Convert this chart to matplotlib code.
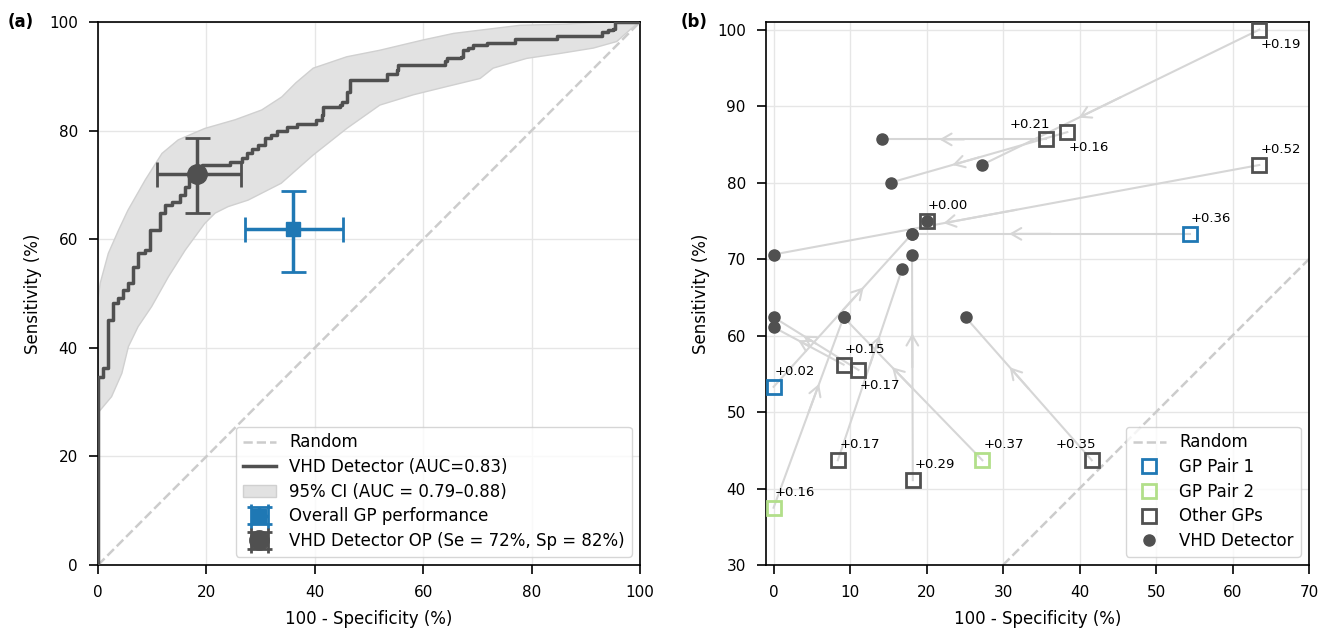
import matplotlib
matplotlib.use('Agg')
import matplotlib.pyplot as plt
from matplotlib.lines import Line2D


# ---- panel (a): ROC curve of the VHD detector ----
roc_fpr = [0, 0, 0.9, 1.9, 2.8, 3.7, 4.7, 5.6, 6.5, 7.4, 8.6, 9.6, 11.4, 12.4, 13.6, 15.1, 16.1, 16.7,
           19.1, 24.4, 26.5, 27.4, 28.4, 29.6, 30.8, 32.0, 33.0, 34.8, 36.7, 40.3, 41.3, 41.6, 44.6,
           45.1, 45.9, 46.5, 53.3, 55.1, 55.4, 64.0, 64.3, 67.0, 67.4, 68.3, 69.2, 71.7, 76.9, 84.6,
           92.9, 94.1, 95.1, 95.4, 100]
roc_tpr = [0, 34.7, 36.3, 45.1, 48.2, 49.1, 50.6, 51.9, 54.9, 57.4, 58.0, 61.7, 64.8, 66.3, 66.9, 68.1,
           69.7, 71.5, 73.7, 74.3, 74.9, 75.8, 76.7, 77.3, 78.6, 79.2, 80.0, 80.7, 81.3, 82.0, 82.9,
           84.4, 84.7, 85.3, 87.2, 89.3, 90.5, 91.2, 92.1, 92.8, 93.3, 93.6, 94.8, 95.2, 95.8, 96.1,
           96.9, 97.5, 98.1, 98.5, 98.8, 100, 100]

ci_up_x = [0, 0.4, 1.9, 3.8, 5.5, 8.7, 11.8, 14.8, 19.7, 25.3, 30.2, 33.9, 36.5, 39.7, 45.9, 52, 60,
           65.6, 70.5, 77.9, 86, 93, 100]
ci_up_y = [49, 51.9, 57.4, 61.7, 65.3, 70.9, 75.8, 78.3, 80.4, 82, 83.8, 86.2, 88.8, 91.5, 93.6, 94.8,
           96.7, 97.9, 98.5, 99.4, 99.6, 100, 100]
ci_lo_x = [0, 0.4, 2.5, 4.4, 5.6, 7.4, 9.9, 13, 16.1, 19.7, 21.6, 24, 27.7, 33.8, 39.7, 45.9, 52,
           58.2, 64.3, 70.5, 72.9, 79.1, 85.2, 91.4, 95.7, 99.1, 100]
ci_lo_y = [28, 28.5, 31, 35.3, 40.2, 43.9, 47.6, 53.1, 58.0, 62.9, 64.8, 66.0, 67.2, 70.3, 75.5, 80.4,
           84.7, 86.6, 88.1, 89.6, 91.5, 93.3, 94.2, 95.2, 96.4, 99.4, 100]

# operating points: value, lower, upper
op_fpr = [18.3, 10.8, 26.4]
op_se = [72.0, 64.9, 78.6]
gp_all_fpr = [35.9, 27.1, 45.2]
gp_all_se = [61.9, 53.9, 68.8]

# ---- panel (b): each GP vs. VHD detector on the same cases ----
gp_fpr = [63.5, 35.6, 38.4, 63.5, 20.0, 54.4, 9.15, 11.1, 0.0, 8.4, 18.2, 27.3, 41.6, 0.0]
gp_se = [100.0, 85.65, 86.6, 82.3, 75.0, 73.3, 56.2, 55.5, 53.3, 43.7, 41.1, 43.7, 43.7, 37.5]
gp_group = ['other', 'other', 'other', 'other', 'other', 'pair1', 'other', 'other', 'pair1',
            'other', 'other', 'pair2', 'other', 'pair2']
gp_delta = ['+0.19', '+0.21', '+0.16', '+0.52', '+0.00', '+0.36', '+0.15', '+0.17', '+0.02',
            '+0.17', '+0.29', '+0.37', '+0.35', '+0.16']
vhd_fpr = [27.2, 14.2, 15.3, 0.0, 20.0, 18.1, 0.0, 0.0, 18.1, 16.8, 18.1, 9.15, 25.1, 9.15]
vhd_se = [82.3, 85.65, 80.0, 70.6, 75.0, 73.3, 61.1, 62.4, 73.3, 68.7, 70.6, 62.4, 62.4, 62.4]

# where each delta label sits relative to its square (points, alignment)
label_pos = [(1, -11, 'left'), (3, 11, 'right'), (1, -11, 'left'), (1, 11, 'left'), (1, 11, 'left'),
             (1, 11, 'left'), (1, 11, 'left'), (1, -11, 'left'), (1, 11, 'left'), (1, 11, 'left'),
             (1, 11, 'left'), (1, 11, 'left'), (3, 11, 'right'), (1, 11, 'left')]

dark = '#505050'
blue = '#1f78b4'
green = '#b2df8a'
grey = '#cccccc'
arrow_c = '#d6d6d6'
group_color = {'pair1': blue, 'pair2': green, 'other': dark}

fig = plt.figure(figsize=(13.3, 6.34), dpi=100)
ax1 = fig.add_axes([0.0737, 0.1088, 0.4075, 0.8565])
ax2 = fig.add_axes([0.5759, 0.1088, 0.4083, 0.8565])

for ax in (ax1, ax2):
    ax.grid(True, color='#e6e6e6', lw=1)
    ax.set_axisbelow(True)
    for s in ax.spines.values():
        s.set_linewidth(1.2)
    ax.tick_params(labelsize=11, length=6.5, width=1.2, pad=8)
    ax.set_xlabel('100 - Specificity (%)', fontsize=12, labelpad=7)
    ax.set_ylabel('Sensitivity (%)', fontsize=12, labelpad=5)

# (a)
ax1.plot([0, 100], [0, 100], '--', color=grey, lw=1.8, label='Random', zorder=1)
ax1.plot(roc_fpr, roc_tpr, drawstyle='steps-post', color=dark, lw=2.5,
         label='VHD Detector (AUC=0.83)', zorder=3)
ax1.fill(ci_up_x + ci_lo_x[::-1], ci_up_y + ci_lo_y[::-1], facecolor='#e2e2e2',
         edgecolor='#d0d0d0', lw=1, zorder=2, label='95% CI (AUC = 0.79–0.88)')
ax1.errorbar(gp_all_fpr[0], gp_all_se[0],
             xerr=[[gp_all_fpr[0] - gp_all_fpr[1]], [gp_all_fpr[2] - gp_all_fpr[0]]],
             yerr=[[gp_all_se[0] - gp_all_se[1]], [gp_all_se[2] - gp_all_se[0]]],
             fmt='s', color=blue, ms=10, elinewidth=2.5, capsize=9, capthick=2,
             label='Overall GP performance', zorder=4)
ax1.errorbar(op_fpr[0], op_se[0],
             xerr=[[op_fpr[0] - op_fpr[1]], [op_fpr[2] - op_fpr[0]]],
             yerr=[[op_se[0] - op_se[1]], [op_se[2] - op_se[0]]],
             fmt='o', color=dark, ms=14, elinewidth=2.5, capsize=9, capthick=2,
             label='VHD Detector OP (Se = 72%, Sp = 82%)', zorder=5)
ax1.set_xlim(0, 100)
ax1.set_ylim(0, 100)
h, l = ax1.get_legend_handles_labels()
order = [l.index(k) for k in ['Random', 'VHD Detector (AUC=0.83)', '95% CI (AUC = 0.79–0.88)',
                              'Overall GP performance', 'VHD Detector OP (Se = 72%, Sp = 82%)']]
ax1.legend([h[i] for i in order], [l[i] for i in order], loc='lower right', fontsize=12,
           borderaxespad=0.5, labelspacing=0.4)

# (b)
ax2.plot([30, 70], [30, 70], '--', color=grey, lw=1.8, zorder=1)
for i in range(len(gp_fpr)):
    gx, gy, vx, vy = gp_fpr[i], gp_se[i], vhd_fpr[i], vhd_se[i]
    ax2.plot([gx, vx], [gy, vy], color=arrow_c, lw=1.5, zorder=1)
    if (gx, gy) != (vx, vy):
        ax2.annotate('', xy=(gx + 0.65 * (vx - gx), gy + 0.65 * (vy - gy)),
                     xytext=(gx + 0.5 * (vx - gx), gy + 0.5 * (vy - gy)),
                     arrowprops=dict(arrowstyle='->,head_length=0.6,head_width=0.35',
                                     color=arrow_c, lw=1.5, shrinkA=0, shrinkB=0,
                                     mutation_scale=12), zorder=1)
    ax2.plot(gx, gy, 's', ms=10, mfc='none', mec=group_color[gp_group[i]], mew=2, zorder=3)
    dx, dy, ha = label_pos[i]
    ax2.annotate(gp_delta[i], (gx, gy), xytext=(dx, dy), textcoords='offset points',
                 ha=ha, va='center', fontsize=9.5, zorder=5)
ax2.plot(vhd_fpr, vhd_se, 'o', color=dark, ms=8, ls='none', zorder=4)
ax2.set_xlim(-1, 70)
ax2.set_ylim(30, 101)
ax2.set_xticks(range(0, 71, 10))
ax2.set_yticks(range(30, 101, 10))
handles = [Line2D([], [], ls='--', color=grey, lw=1.8),
           Line2D([], [], marker='s', ls='none', ms=10, mfc='none', mec=blue, mew=2),
           Line2D([], [], marker='s', ls='none', ms=10, mfc='none', mec=green, mew=2),
           Line2D([], [], marker='s', ls='none', ms=10, mfc='none', mec=dark, mew=2),
           Line2D([], [], marker='o', ls='none', ms=8, color=dark)]
ax2.legend(handles, ['Random', 'GP Pair 1', 'GP Pair 2', 'Other GPs', 'VHD Detector'],
           loc='lower right', fontsize=12, borderaxespad=0.5, labelspacing=0.4)

fig.text(0.006, 0.965, '(a)', fontsize=12, fontweight='bold', va='center')
fig.text(0.512, 0.965, '(b)', fontsize=12, fontweight='bold', va='center')

fig.savefig('out.png', dpi=100)
